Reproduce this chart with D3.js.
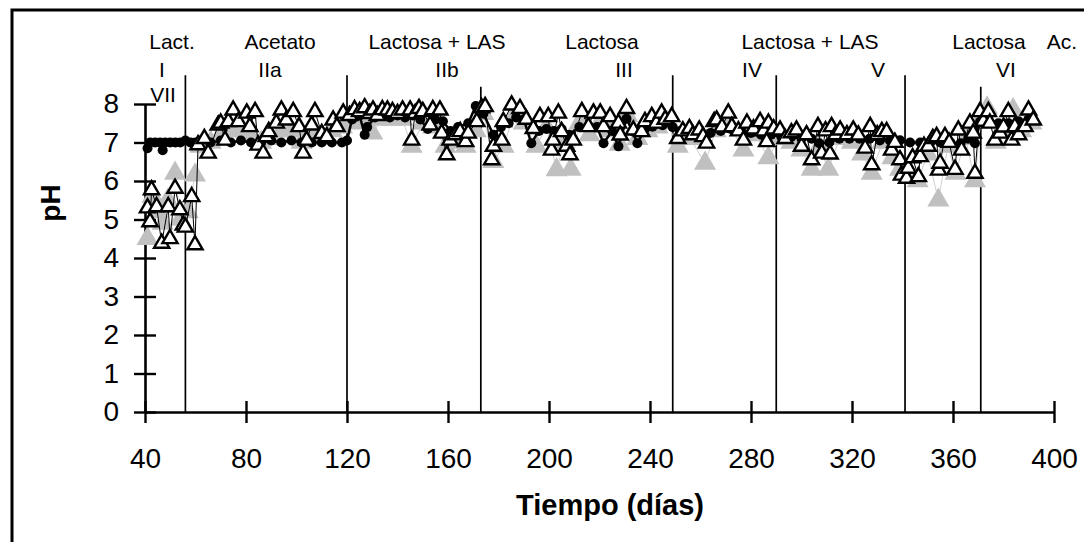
<!DOCTYPE html>
<html>
<head>
<meta charset="utf-8">
<script src="https://cdn.jsdelivr.net/npm/d3@7"></script>
<style>
  body { margin: 0; background: #fff; }
  text { font-family: Arial, "Liberation Sans", sans-serif; }
</style>
</head>
<body>
<div id="chart"></div>
<script>
// Triángulos abiertos
const diasAbierto = [41, 42, 42.6, 44.6, 46.6, 49.2, 49.9, 51.9, 53.8, 55.2, 56, 58.5, 59.8, 61, 63.5, 65, 69, 70, 71.7, 73, 74.9, 77, 80.3, 81.5, 83.6, 84.8, 86.8, 88, 89, 92, 94, 96, 98.7, 101, 102.6, 104, 106, 107.3, 110, 112, 114.5, 116, 118.5,
  121, 123, 125, 127, 129, 130.3, 132, 134, 136, 138, 140, 142, 145, 145.6, 147, 148.5, 150, 152.9, 154, 156.8, 157.5, 159.5, 160.8, 163, 164.8, 167, 168, 171.4, 173.3, 174.7,
  177.3, 178, 181.3, 181.9, 185.2, 188.5, 191, 193.8, 196.4, 199.7, 201, 201.6, 203.7, 205, 207, 208.3, 209.6, 213, 215.6, 217.6, 220.3, 221.6, 224.2, 227.5, 228.2, 230.7, 233.4, 236.7, 238, 240.7, 242.5, 244.6, 246, 248.6,
  251, 253, 255.6, 257, 259.5, 261, 262.4, 265.4, 266.4, 268.5, 271, 272.4, 275, 277, 278.4, 281, 283.6, 285, 286.2, 286.9, 289,
  291.5, 293.5, 296, 298, 300, 302, 304, 306.5, 308, 309.5, 311.3, 311.9, 313.5, 315.3, 318, 320.5, 322.5, 325.2, 327.2, 327.8, 330, 331.8, 333.7, 335.7, 337, 339, 339.6,
  341.6, 342.3, 344, 346.3, 347, 348.5, 350.2, 352, 353.5, 354.3, 354.9, 356.8, 358.5, 360.8, 362.1, 363.4, 366.7, 368, 368.7,
  370.7, 372, 374, 374.6, 376.6, 378.6, 380, 381.9, 383.2, 384.5, 386, 388.5, 389.9, 391.8];
const phAbierto = [5.3, 4.94, 5.77, 5.33, 4.38, 5.33, 4.5, 5.81, 5.25, 4.85, 4.8, 5.59, 4.34, 6.94, 7.1, 6.72, 7.45, 7.5, 7.06, 7.54, 7.84, 7.54, 7.76, 7.41, 7.8, 6.93, 6.72, 7.15, 7.28, 7.5, 7.84, 7.58, 7.8, 7.41, 6.72, 7.06, 7.45, 7.8, 7.23, 7.15, 7.58, 7.41, 7.76,
  7.7, 7.85, 7.8, 7.9, 7.75, 7.84, 7.7, 7.85, 7.84, 7.8, 7.75, 7.84, 7.84, 7.06, 7.75, 7.88, 7.8, 7.45, 7.85, 7.84, 7.24, 6.68, 7.06, 7.2, 7.28, 7.02, 7.24, 7.54, 7.9, 7.93,
  6.55, 6.9, 7.06, 7.54, 7.97, 7.88, 7.6, 7.36, 7.67, 7.67, 6.8, 7.06, 7.76, 7.28, 6.9, 6.68, 7.06, 7.8, 7.41, 7.76, 7.76, 7.41, 7.67, 7.5, 7.19, 7.88, 7.32, 7.28, 7.54, 7.67, 7.5, 7.76, 7.6, 7.67,
  7.1, 7.3, 7.36, 7.2, 7.32, 7.15, 6.98, 7.54, 7.58, 7.4, 7.76, 7.41, 7.3, 7.06, 7.5, 7.35, 7.54, 7.3, 7.02, 7.5, 7.35,
  7.32, 7.1, 7.25, 7.32, 6.9, 7.2, 6.55, 7.41, 6.72, 7.3, 6.7, 7.41, 7.2, 7.32, 7.2, 7.32, 7.19, 6.85, 7.41, 6.42, 7.2, 7.28, 7.28, 6.8, 7.0, 6.55, 6.15,
  6.07, 6.33, 6.6, 6.11, 6.63, 6.9, 6.9, 7.1, 7.15, 6.28, 6.46, 7.15, 7.0, 6.3, 7.32, 6.8, 7.5, 7.24, 6.2,
  7.8, 7.55, 7.8, 7.5, 7.06, 7.24, 7.4, 7.8, 7.06, 7.41, 7.2, 7.41, 7.84, 7.58];

// Triángulos grises
const diasGris = [41, 43, 45, 47, 49, 51.9, 54, 57, 59.8, 62, 66, 70, 74, 78, 82, 86, 90, 94, 98, 102, 106, 110, 114, 118, 122, 126, 130, 134, 138, 142, 145.6, 150, 154, 159, 163, 167, 171, 174,
  178, 182, 186, 190, 195, 199, 203, 206, 208.6, 212, 216, 220, 224, 228, 231, 235, 239, 243, 247, 251, 256, 261.8, 266, 271, 277, 282, 286.9, 291, 296, 300, 304, 307, 310.6,
  315, 320, 324, 327.8, 332, 336, 339, 342, 346, 350, 354.2, 358, 361, 365, 368.7, 371, 373.5, 377, 380, 383.8, 387, 391];
const phGris = [4.5, 5.6, 5.2, 4.9, 5.5, 6.2, 5.0, 5.2, 6.15, 6.9, 7.0, 7.2, 7.3, 7.3, 7.2, 7.0, 7.1, 7.3, 7.3, 7.0, 7.2, 7.1, 7.3, 7.4, 7.5, 7.6, 7.24, 7.6, 7.6, 7.6, 6.9, 7.5, 7.4, 6.9, 7.0, 6.9, 7.3, 7.75,
  6.5, 6.9, 7.7, 7.5, 6.9, 7.4, 6.29, 7.0, 6.3, 7.5, 7.2, 7.5, 7.3, 6.95, 7.7, 7.1, 7.3, 7.4, 7.5, 6.9, 7.1, 6.46, 7.3, 7.5, 6.8, 7.2, 6.6, 7.1, 7.0, 6.8, 6.3, 6.9, 6.3,
  7.1, 7.0, 6.7, 6.2, 7.0, 6.6, 6.3, 6.2, 6.0, 6.7, 5.5, 6.9, 6.2, 7.1, 6.0, 7.6, 7.9, 7.0, 7.3, 7.85, 7.3, 7.5];

// Círculos negros
const diasCirculo = [41, 42, 44, 46, 47, 48, 50, 52, 54, 56, 58, 60, 62, 66, 70, 74, 78, 82, 86, 90, 94, 98, 102, 106, 110, 114, 118, 120,
  122, 125, 127, 128, 131, 134, 137, 140, 143, 146, 149, 152, 155, 158, 161, 164, 168, 171, 174,
  178, 181, 184, 187, 190, 193, 196, 199, 202, 205, 208, 212, 216, 219, 221.6, 225, 227.5, 230.7, 233, 235, 238, 241, 245, 249,
  252, 256, 260, 264, 268, 272, 276, 280, 284, 288, 292, 296, 300, 304, 307, 311, 315, 319, 323, 327, 331, 335, 339,
  343, 347, 351, 355, 359, 363, 366, 368.7, 370.7, 374, 378, 382, 386, 390];
const phCirculo = [6.85, 7.0, 7.0, 7.0, 6.8, 7.0, 7.0, 7.0, 7.0, 7.05, 7.0, 7.0, 7.05, 7.0, 7.05, 7.0, 7.05, 7.0, 7.0, 7.05, 7.0, 7.05, 7.0, 7.0, 7.0, 7.0, 7.0, 7.05,
  7.6, 7.7, 7.2, 7.4, 7.65, 7.7, 7.65, 7.7, 7.65, 7.7, 7.6, 7.35, 7.6, 7.55, 7.3, 7.4, 7.5, 7.95, 7.75,
  7.2, 7.4, 7.5, 7.65, 7.6, 6.98, 7.3, 7.35, 7.3, 7.35, 7.2, 7.4, 7.4, 7.4, 6.98, 7.3, 6.9, 7.62, 7.3, 6.98, 7.35, 7.41, 7.45, 7.4,
  7.3, 7.3, 7.25, 7.25, 7.3, 7.35, 7.3, 7.25, 7.2, 7.2, 7.15, 7.15, 7.1, 7.1, 6.98, 7.0, 7.1, 7.1, 7.1, 7.1, 7.05, 7.05, 7.06,
  7.0, 7.0, 7.0, 7.0, 7.0, 6.98, 7.1, 6.98, 7.54, 7.6, 7.5, 7.5, 7.55, 7.6];

// Etapas: líneas divisorias y rótulos
const divisiones = [56, 120, 173, 249, 290, 341, 371];
const topeDivision = [8.75, 8.75, 8.45, 8.75, 8.75, 8.75, 8.45];
const rotulosSustrato = [
  { t: "Lact.", x: 172 }, { t: "Acetato", x: 280 }, { t: "Lactosa + LAS", x: 437 },
  { t: "Lactosa", x: 602 }, { t: "Lactosa + LAS", x: 810 }, { t: "Lactosa", x: 989 }, { t: "Ac.", x: 1062 }
];
const rotulosEtapa = [
  { t: "I", x: 162, y: 77 }, { t: "IIa", x: 270, y: 77 }, { t: "IIb", x: 447, y: 77 },
  { t: "III", x: 624, y: 77 }, { t: "IV", x: 752, y: 77 }, { t: "V", x: 878, y: 77 },
  { t: "VI", x: 1006, y: 77 }, { t: "VII", x: 163, y: 102 }
];
const ticksX = [40, 80, 120, 160, 200, 240, 280, 320, 360, 400];
const ticksY = [0, 1, 2, 3, 4, 5, 6, 7, 8];

const width = 1084, height = 542;
const svg = d3.select("#chart").append("svg")
  .attr("width", width)
  .attr("height", height);

// marco
svg.append("path")
  .attr("d", `M12,${height + 5} L12,10 L${width + 5},10`)
  .attr("fill", "none")
  .attr("stroke", "#000")
  .attr("stroke-width", 3);

const x = d3.scaleLinear().domain([40, 400]).range([145, 1054]);
const y = d3.scaleLinear().domain([0, 8]).range([412, 104]);

// líneas divisorias
svg.selectAll("line.div")
  .data(divisiones)
  .enter().append("line")
  .attr("class", "div")
  .attr("x1", d => x(d)).attr("x2", d => x(d))
  .attr("y1", y(0))
  .attr("y2", (d, i) => y(topeDivision[i]))
  .attr("stroke", "#000")
  .attr("stroke-width", 1.7);

// ejes
const ejeX = svg.append("g").attr("transform", `translate(0,${y(0)})`)
  .call(d3.axisBottom(x).tickValues(ticksX).tickSize(0).tickPadding(36));
const ejeY = svg.append("g").attr("transform", `translate(${x(40)},0)`)
  .call(d3.axisLeft(y).tickValues(ticksY).tickSize(0).tickPadding(26));
[ejeX, ejeY].forEach(g => {
  g.select(".domain").attr("stroke", "#000").attr("stroke-width", 2.6);
  g.selectAll("text").attr("font-size", 28).attr("fill", "#000")
    .attr("font-family", "Arial, 'Liberation Sans', sans-serif");
});
// marcas cruzadas
ejeX.selectAll(".tick").append("line")
  .attr("y1", -11).attr("y2", 11).attr("stroke", "#000").attr("stroke-width", 2.4);
ejeY.selectAll(".tick").append("line")
  .attr("x1", -11).attr("x2", 11).attr("stroke", "#000").attr("stroke-width", 2.4);

// rótulos de sustrato y etapa
svg.selectAll("text.sus")
  .data(rotulosSustrato)
  .enter().append("text")
  .attr("class", "sus")
  .attr("x", d => d.x).attr("y", 49)
  .attr("text-anchor", "middle")
  .attr("font-size", 21)
  .text(d => d.t);
svg.selectAll("text.eta")
  .data(rotulosEtapa)
  .enter().append("text")
  .attr("class", "eta")
  .attr("x", d => d.x).attr("y", d => d.y)
  .attr("text-anchor", "middle")
  .attr("font-size", 21)
  .text(d => d.t);

// títulos de ejes
svg.append("text")
  .attr("x", 610).attr("y", 515)
  .attr("text-anchor", "middle")
  .attr("font-size", 29)
  .attr("font-weight", "bold")
  .text("Tiempo (días)");
svg.append("text")
  .attr("transform", "translate(60,203) rotate(-90)")
  .attr("text-anchor", "middle")
  .attr("font-size", 28)
  .attr("font-weight", "bold")
  .text("pH");

const gris = diasGris.map((d, i) => ({ d: d, v: phGris[i] }));
const abierto = diasAbierto.map((d, i) => ({ d: d, v: phAbierto[i] }));
const circulo = diasCirculo.map((d, i) => ({ d: d, v: phCirculo[i] }));

const linea = d3.line().x(p => x(p.d)).y(p => y(p.v));
const tri = d3.symbol().type(d3.symbolTriangle);

// serie gris
svg.append("path").datum(gris)
  .attr("d", linea).attr("fill", "none")
  .attr("stroke", "#d0d0d0").attr("stroke-width", 1);
svg.selectAll("path.gris")
  .data(gris)
  .enter().append("path")
  .attr("class", "gris")
  .attr("transform", p => `translate(${x(p.d)},${y(p.v)})`)
  .attr("d", tri.size(210))
  .attr("fill", "#c0c0c0");

// líneas de las otras series
svg.append("path").datum(circulo)
  .attr("d", linea).attr("fill", "none")
  .attr("stroke", "#000").attr("stroke-width", 2.5);
svg.append("path").datum(abierto)
  .attr("d", linea).attr("fill", "none")
  .attr("stroke", "#000").attr("stroke-width", 1);

// círculos negros
svg.selectAll("circle.c")
  .data(circulo)
  .enter().append("circle")
  .attr("class", "c")
  .attr("cx", p => x(p.d)).attr("cy", p => y(p.v))
  .attr("r", 5)
  .attr("fill", "#000");

// triángulos abiertos
svg.selectAll("path.abierto")
  .data(abierto)
  .enter().append("path")
  .attr("class", "abierto")
  .attr("transform", p => `translate(${x(p.d)},${y(p.v)})`)
  .attr("d", tri.size(100))
  .attr("fill", "#fff")
  .attr("stroke", "#000")
  .attr("stroke-width", 2.4);
</script>
</body>
</html>
